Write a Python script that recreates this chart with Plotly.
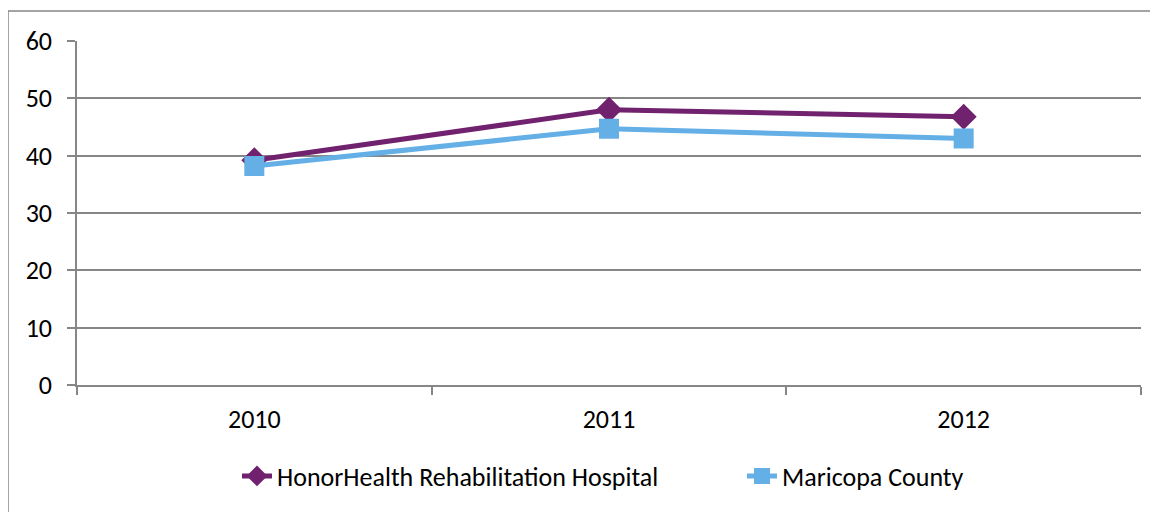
import plotly.graph_objects as go

years = ["2010", "2011", "2012"]
honorhealth = [39.2, 48.0, 46.8]
maricopa = [38.2, 44.7, 43.0]
y_ticks = [0, 10, 20, 30, 40, 50, 60]

purple = "#71226E"
blue = "#63AFE6"
grey = "#868686"
font = "Carlito, Calibri, Lato, sans-serif"

fig = go.Figure()
fig.add_trace(go.Scatter(
    x=years, y=honorhealth, name="HonorHealth Rehabilitation Hospital",
    mode="lines+markers",
    line=dict(color=purple, width=5),
    marker=dict(symbol="diamond", size=20, color=purple),
))
fig.add_trace(go.Scatter(
    x=years, y=maricopa, name="Maricopa County",
    mode="lines+markers",
    line=dict(color=blue, width=5),
    marker=dict(symbol="square", size=20, color=blue),
))

# page body has an 8px default margin; compensate
OFF = 8
W, H = 1158 - OFF, 512 - OFF
L, R, T, B = 77 - OFF, 17, 41 - OFF, 127
pw = W - L - R
ph = H - T - B
axis_bottom = 385 - OFF

legend_shift_px = 133

fig.update_layout(
    width=W, height=H,
    margin=dict(l=L, r=R, t=T, b=B, autoexpand=False),
    paper_bgcolor="white", plot_bgcolor="white",
    font=dict(family=font, size=26, color="black"),
    showlegend=True,
    legend=dict(orientation="h", x=0.5 + legend_shift_px / pw, xanchor="center",
                y=(H - B - (476 - OFF)) / ph, yanchor="middle",
                font=dict(size=26), entrywidth=460, entrywidthmode="pixels"),
    xaxis=dict(
        type="category", tickson="boundaries",
        showgrid=False, showline=True, linecolor=grey, linewidth=1.5,
        ticks="outside", ticklen=8, tickcolor=grey, tickwidth=1.5,
        ticklabelstandoff=10, range=[-0.5, 2.5], zeroline=False,
        tickfont=dict(size=26),
    ),
    yaxis=dict(
        range=[0, 60], tickvals=y_ticks, showgrid=True, gridcolor=grey, gridwidth=1.5,
        showline=True, linecolor=grey, linewidth=1.5, zeroline=False,
        ticks="outside", ticklen=8, tickcolor=grey, tickwidth=1.5,
        ticklabelstandoff=10, tickfont=dict(size=26),
    ),
    shapes=[dict(
        type="rect", xref="paper", yref="paper",
        x0=(8 - 77) / pw, x1=1.2, y0=-1.0, y1=(axis_bottom - (11 - OFF)) / ph,
        line=dict(color=grey, width=1.5), fillcolor="rgba(0,0,0,0)", layer="below",
    )],
)

fig.write_html("out.html")
